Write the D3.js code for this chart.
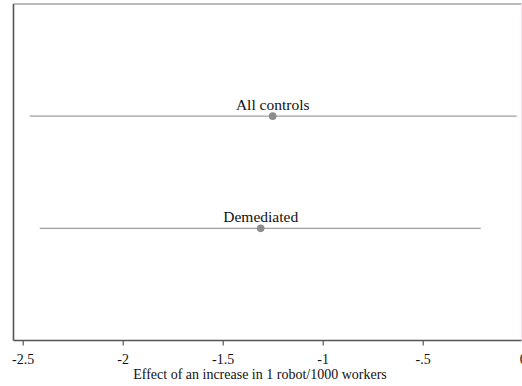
<!DOCTYPE html>
<html>
<head>
<meta charset="utf-8">
<script src="https://cdn.jsdelivr.net/npm/d3@7"></script>
<style>
  html, body { margin: 0; padding: 0; background: #fff; }
  svg { display: block; }
  svg text { font-family: 'Liberation Serif', 'Times New Roman', serif !important; fill: #111; }
</style>
</head>
<body>
<svg id="chart" width="522" height="386"></svg>
<script>
// Coefficient estimates with their confidence intervals
const models = ["Demediated", "All controls"];
const modelRows = [1, 2];
const estimates = [-1.31, -1.25];
const lowerBounds = [-2.415, -2.465];
const upperBounds = [-0.21, -0.03];
const xTicks = [-2.5, -2, -1.5, -1, -0.5, 0];
const xTickLabels = ["-2.5", "-2", "-1.5", "-1", "-.5", "0"];
const xTitle = "Effect of an increase in 1 robot/1000 workers";

const serif = "'Liberation Serif', 'Times New Roman', serif";
const svg = d3.select("#chart");
const plotLeft = 13.5, plotRight = 521.5, plotTop = 4, plotBottom = 340.5;

const x = d3.scaleLinear().domain([-2.5, 0]).range([22.7, 522.7]);
const y = d3.scaleLinear().domain([0, 3]).range([plotBottom, plotTop]);

// frame: top and faint right edge
svg.append("line").attr("x1", plotLeft).attr("x2", plotRight).attr("y1", plotTop).attr("y2", plotTop)
  .attr("stroke", "#777").attr("stroke-width", 1.2);
svg.append("line").attr("x1", plotRight).attr("x2", plotRight).attr("y1", plotTop).attr("y2", plotBottom)
  .attr("stroke", "#f3e6f0").attr("stroke-width", 1);

// x axis
const xAxis = d3.axisBottom(x)
  .tickValues(xTicks)
  .tickFormat((d, i) => xTickLabels[i])
  .tickSize(5)
  .tickPadding(9);
const gx = svg.append("g").attr("transform", `translate(0,${plotBottom})`).call(xAxis)
  .attr("font-family", serif).attr("font-size", 14);
gx.select(".domain").attr("d", `M${plotLeft},0H${plotRight}`).attr("stroke", "#555").attr("stroke-width", 1.6);
gx.selectAll(".tick line").attr("stroke", "#555").attr("stroke-width", 1.2);
gx.selectAll(".tick text").attr("fill", "#111");

// y axis line only
svg.append("line").attr("x1", plotLeft).attr("x2", plotLeft).attr("y1", plotTop).attr("y2", plotBottom)
  .attr("stroke", "#555").attr("stroke-width", 1.6);

// axis title
svg.append("text").attr("x", 260).attr("y", 378.5).attr("text-anchor", "middle")
  .attr("font-family", serif).attr("font-size", 14).text(xTitle);

// confidence intervals, point estimates and labels
const rows = models.map((m, i) => ({
  name: m, row: modelRows[i], est: estimates[i], lo: lowerBounds[i], hi: upperBounds[i]
}));

const g = svg.append("g");
g.selectAll("line.ci").data(rows).join("line").attr("class", "ci")
  .attr("x1", d => x(d.lo)).attr("x2", d => x(d.hi))
  .attr("y1", d => y(d.row)).attr("y2", d => y(d.row))
  .attr("stroke", "#a0a0a0").attr("stroke-width", 1.4);

g.selectAll("circle").data(rows).join("circle")
  .attr("cx", d => x(d.est)).attr("cy", d => y(d.row)).attr("r", 3.8)
  .attr("fill", "#8c8c8c");

g.selectAll("text.lbl").data(rows).join("text").attr("class", "lbl")
  .attr("x", d => x(d.est)).attr("y", d => y(d.row) - 6)
  .attr("text-anchor", "middle").attr("font-family", serif).attr("font-size", 15.5)
  .text(d => d.name);
</script>
</body>
</html>
